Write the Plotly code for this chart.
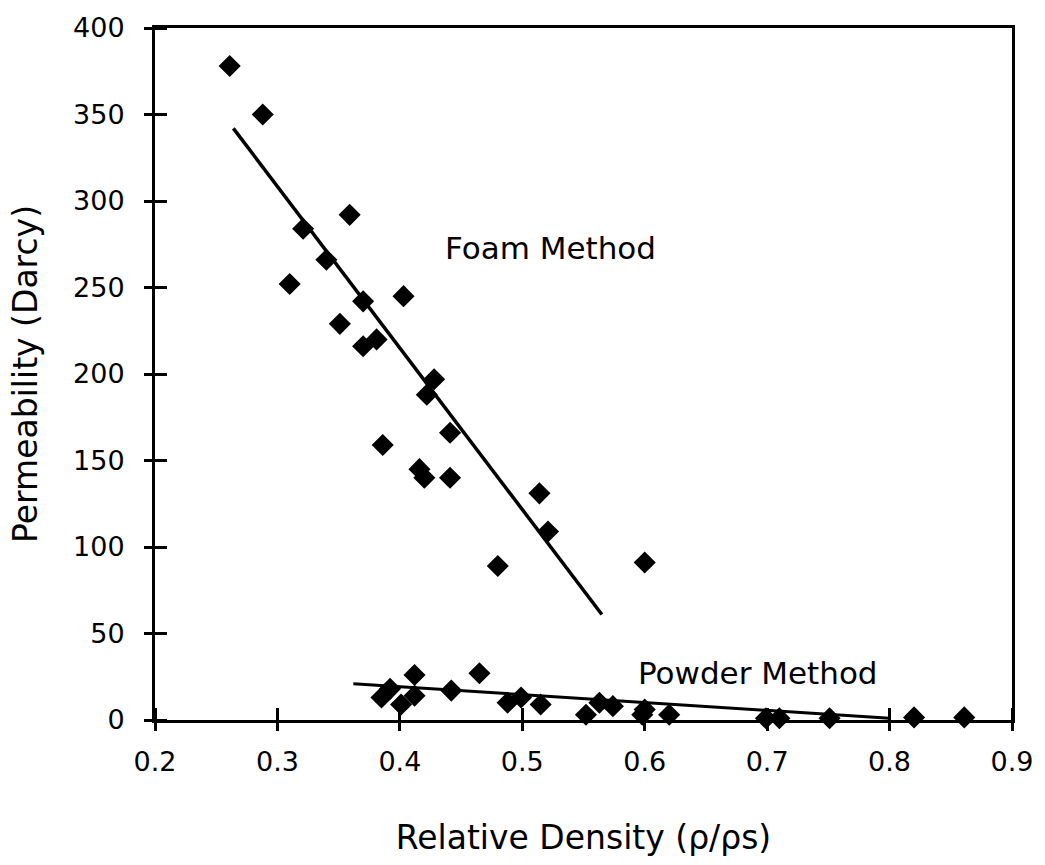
import plotly.graph_objects as go

# ---- data ----
foam_density = [0.261, 0.288, 0.359, 0.321, 0.340, 0.310, 0.370, 0.403, 0.351, 0.370, 0.381,
                0.428, 0.422, 0.441, 0.386, 0.416, 0.420, 0.441, 0.514, 0.521, 0.480, 0.600]
foam_perm = [378, 350, 292, 284, 266, 252, 242, 245, 229, 216, 220,
             197, 188, 166, 159, 145, 140, 140, 131, 109, 89, 91]

powder_density = [0.385, 0.392, 0.412, 0.401, 0.412, 0.442, 0.465, 0.488, 0.499, 0.515,
                  0.552, 0.563, 0.574, 0.598, 0.600, 0.620, 0.699, 0.710, 0.751, 0.820, 0.861]
powder_perm = [13, 18, 26, 9, 14, 17, 27, 10, 13, 9,
               3, 10, 8, 3, 6, 3, 1, 1, 1, 1.5, 1.5]

foam_fit_x = [0.264, 0.565]
foam_fit_y = [342, 61]
powder_fit_x = [0.362, 0.800]
powder_fit_y = [21, 1]

x_ticks = [0.2, 0.3, 0.4, 0.5, 0.6, 0.7, 0.8, 0.9]
x_tick_text = ["0.2", "0.3", "0.4", "0.5", "0.6", "0.7", "0.8", "0.9"]
y_ticks = [0, 50, 100, 150, 200, 250, 300, 350, 400]

FONT = "DejaVu Sans"

fig = go.Figure()

fig.add_trace(go.Scatter(x=foam_fit_x, y=foam_fit_y, mode="lines",
                         line=dict(color="black", width=3.5), showlegend=False))
fig.add_trace(go.Scatter(x=powder_fit_x, y=powder_fit_y, mode="lines",
                         line=dict(color="black", width=3), showlegend=False))
fig.add_trace(go.Scatter(x=foam_density, y=foam_perm, mode="markers",
                         marker=dict(symbol="diamond", size=17, color="black"),
                         cliponaxis=False, showlegend=False))
fig.add_trace(go.Scatter(x=powder_density, y=powder_perm, mode="markers",
                         marker=dict(symbol="diamond", size=17, color="black"),
                         cliponaxis=False, showlegend=False))

axis_common = dict(showgrid=False, zeroline=False, linecolor="black", linewidth=3,
                   tickcolor="black", tickwidth=3,
                   tickfont=dict(family=FONT, size=27, color="black"))

fig.update_layout(
    width=1045, height=865,
    margin=dict(l=155, r=32, t=17, b=145),
    paper_bgcolor="white", plot_bgcolor="white",
    font=dict(family=FONT, color="black"),
    xaxis=dict(range=[0.2, 0.9], tickvals=x_ticks, ticktext=x_tick_text,
               ticks="outside", ticklen=8, showline=True, mirror=True,
               ticklabelstandoff=8,
               minor=dict(ticks="inside", ticklen=12, tickwidth=3, tickcolor="black",
                          tickmode="array", tickvals=x_ticks, showgrid=False),
               title=dict(text="Relative Density (ρ/ρs)",
                          font=dict(family=FONT, size=33, color="black"), standoff=50),
               **axis_common),
    yaxis=dict(range=[0, 400], tickvals=y_ticks,
               ticks="outside", ticklen=8, showline=True, mirror=True,
               ticklabelstandoff=14,
               minor=dict(ticks="inside", ticklen=12, tickwidth=3, tickcolor="black",
                          tickmode="array", tickvals=y_ticks, showgrid=False),
               title=dict(text="Permeability (Darcy)",
                          font=dict(family=FONT, size=33, color="black"), standoff=26),
               **axis_common),
)

fig.add_annotation(x=0.4355, y=273, xref="x", yref="y", text="Foam Method",
                   showarrow=False, xanchor="left",
                   font=dict(family=FONT, size=31, color="black"))
fig.add_annotation(x=0.5925, y=27, xref="x", yref="y", text="Powder Method",
                   showarrow=False, xanchor="left",
                   font=dict(family=FONT, size=31, color="black"))

fig.write_html("out.html")
